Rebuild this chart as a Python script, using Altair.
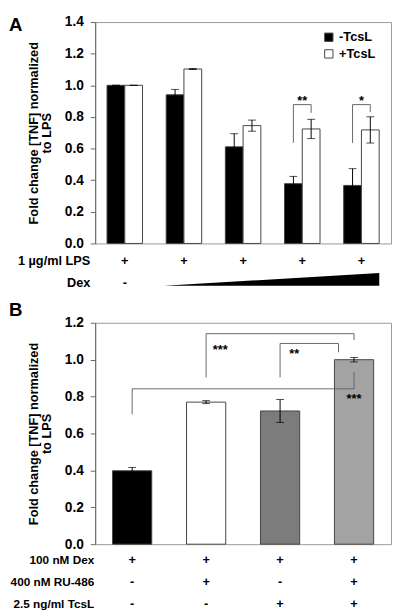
import altair as alt
import pandas as pd

FONT = "Liberation Sans"
W, H = 302, 226

# ---------------- Panel A data ----------------
a_groups = ["LPS", "Dex 1", "Dex 2", "Dex 3", "Dex 4"]
a_series = ["-TcsL", "+TcsL"]
a_minus = [1.00, 0.940, 0.611, 0.378, 0.367]
a_minus_err = [0.0, 0.034, 0.083, 0.046, 0.106]
a_plus = [1.00, 1.103, 0.745, 0.724, 0.718]
a_plus_err = [0.0, 0.003, 0.035, 0.061, 0.083]
a_lps_signs = ["+", "+", "+", "+", "+"]
a_dex_signs = ["-", "", "", "", ""]
a_row_titles = ["1 µg/ml LPS", "Dex"]
a_ticks = [0.0, 0.2, 0.4, 0.6, 0.8, 1.0, 1.2, 1.4]
# significance brackets (x in group units, y in fold change)
a_br_id = ["g4"] * 4 + ["g5"] * 4
a_br_x = [3.35, 3.35, 3.65, 3.65, 4.35, 4.35, 4.65, 4.65]
a_br_y = [0.636, 0.878, 0.878, 0.826, 0.636, 0.878, 0.878, 0.830]
a_star_text = ["**", "*"]
a_star_x = [3.5, 4.5]
a_star_y = [0.875, 0.875]

# ---------------- Panel B data ----------------
b_conds = ["Dex", "Dex+RU", "Dex+TcsL", "Dex+RU+TcsL"]
b_vals = [0.398, 0.770, 0.722, 1.000]
b_errs = [0.018, 0.008, 0.062, 0.012]
b_colors = ["#000000", "#ffffff", "#7c7c7c", "#a3a3a3"]
b_dex_signs = ["+", "+", "+", "+"]
b_ru_signs = ["-", "+", "-", "+"]
b_tcsl_signs = ["-", "-", "+", "+"]
b_row_titles = ["100 nM Dex", "400 nM RU-486", "2.5 ng/ml TcsL"]
b_ticks = [0.0, 0.2, 0.4, 0.6, 0.8, 1.0, 1.2]
b_br_id = ["b1"] * 4 + ["b2"] * 4 + ["b3"] * 4
b_br_x = [1.5, 1.5, 3.5, 3.5, 2.5, 2.5, 3.29, 3.29, 0.5, 0.5, 3.5, 3.5]
b_br_y = [0.904, 1.141, 1.141, 1.106, 0.904, 1.088, 1.088, 1.040, 0.704, 0.842, 0.842, 0.934]
b_star_text = ["***", "**", "***"]
b_star_x = [1.69, 2.69, 3.5]
b_star_y = [1.030, 1.009, 0.765]

Y_TITLE = ["Fold change [TNF] normalized", "to LPS"]


def yaxis(ticks):
    return alt.Axis(values=ticks, format=".1f", labelFont=FONT, labelFontSize=14,
                    labelFontWeight="bold", labelColor="black", tickSize=5,
                    tickColor="#666", domainColor="#666", grid=False, labelPadding=7,
                    labelOverlap=False,
                    title=Y_TITLE, titleFont=FONT, titleFontSize=13, titleFontWeight="bold",
                    titleColor="black", titleLineHeight=13, titlePadding=11)


def label(text, x, y, size=13, align="right", baseline="middle"):
    return alt.Chart(pd.DataFrame({"t": [text]})).mark_text(
        align=align, baseline=baseline, font=FONT, fontSize=size, fontWeight="bold",
        color="black").encode(x=alt.value(x), y=alt.value(y), text="t:N")


def sign_row(field, cats, signs, xenc, y):
    df = pd.DataFrame({field: cats, "s": signs})
    return alt.Chart(df).mark_text(baseline="middle", font=FONT, fontSize=13,
                                   fontWeight="bold", color="black").encode(
        x=xenc, y=alt.value(y), text="s:N")


# ---------------- Panel A ----------------
dfA = pd.DataFrame({
    "group": a_groups * 2,
    "series": [a_series[0]] * len(a_groups) + [a_series[1]] * len(a_groups),
    "value": a_minus + a_plus,
    "err": a_minus_err + a_plus_err,
})
xA = alt.X("group:N", scale=alt.Scale(domain=a_groups, paddingInner=0.4, paddingOuter=0.2), axis=None)
xoffA = alt.XOffset("series:N", scale=alt.Scale(domain=a_series, paddingInner=0, paddingOuter=0))
yscA = alt.Scale(domain=[0, 1.4])
yaxA = yaxis(a_ticks)

barsA = alt.Chart(dfA).mark_bar(stroke="#444", strokeWidth=1).encode(
    x=xA, xOffset=xoffA,
    y=alt.Y("value:Q", scale=yscA, axis=yaxA),
    fill=alt.Fill("series:N", scale=alt.Scale(domain=a_series, range=["black", "white"]),
                  legend=alt.Legend(title=None, orient="none", legendX=232, legendY=9,
                                    symbolType="square", symbolSize=72,
                                    symbolStrokeColor="#444", symbolStrokeWidth=1,
                                    labelFont=FONT, labelFontSize=13, labelFontWeight="bold",
                                    labelColor="black", labelOffset=4, rowPadding=3,
                                    padding=0)),
)
errA = alt.Chart(dfA).transform_calculate(
    lo="datum.value - datum.err", hi="datum.value + datum.err")
ruleA = errA.mark_rule(color="black", strokeWidth=1).encode(
    x=xA, xOffset=xoffA, y=alt.Y("lo:Q", scale=yscA, axis=yaxA), y2="hi:Q")
capHiA = errA.mark_tick(color="black", thickness=1, size=8).encode(
    x=xA, xOffset=xoffA, y=alt.Y("hi:Q", scale=yscA, axis=yaxA))
capLoA = errA.mark_tick(color="black", thickness=1, size=8).encode(
    x=xA, xOffset=xoffA, y=alt.Y("lo:Q", scale=yscA, axis=yaxA))

wedge = alt.Chart(pd.DataFrame({"w": [1]})).mark_point(
    shape="M -1 0.06 L 1 0.06 L 1 -0.06 Z", size=48400, filled=True,
    fill="black", opacity=1, strokeWidth=0).encode(x=alt.value(180), y=alt.value(262.7))

innerA = alt.layer(
    barsA, ruleA, capHiA, capLoA,
    sign_row("group", a_groups, a_lps_signs, xA, 244),
    sign_row("group", a_groups, a_dex_signs, xA, 266),
    label(a_row_titles[0], -5, 244),
    label(a_row_titles[1], -5, 266),
    wedge,
    label("A", -88, 9, size=19, align="left", baseline="alphabetic"),
)
dfbrA = pd.DataFrame({"id": a_br_id, "k": list(range(4)) * 2, "x": a_br_x, "y": a_br_y})
xqA = alt.Scale(domain=[0, len(a_groups)])
bracketsA = alt.Chart(dfbrA).mark_line(color="#666", strokeWidth=1).encode(
    x=alt.X("x:Q", scale=xqA, axis=None), y=alt.Y("y:Q", scale=yscA, axis=yaxA),
    detail="id:N", order="k:Q")
starsA = alt.Chart(pd.DataFrame({"t": a_star_text, "x": a_star_x, "y": a_star_y})).mark_text(
    font=FONT, fontSize=13, fontWeight="bold", baseline="alphabetic", color="black").encode(
    x=alt.X("x:Q", scale=xqA, axis=None), y=alt.Y("y:Q", scale=yscA, axis=yaxA), text="t:N")

panelA = alt.layer(innerA, alt.layer(bracketsA, starsA)).resolve_scale(
    x="independent").properties(width=W, height=H)

# ---------------- Panel B ----------------
dfB = pd.DataFrame({"cond": b_conds, "value": b_vals, "err": b_errs})
xB = alt.X("cond:N", scale=alt.Scale(domain=b_conds, paddingInner=0.47, paddingOuter=0.235), axis=None)
yscB = alt.Scale(domain=[0, 1.2])
yaxB = yaxis(b_ticks)

barsB = alt.Chart(dfB).mark_bar(stroke="#444", strokeWidth=1).encode(
    x=xB, y=alt.Y("value:Q", scale=yscB, axis=yaxB),
    fill=alt.Fill("cond:N", scale=alt.Scale(domain=b_conds, range=b_colors), legend=None))
errB = alt.Chart(dfB).transform_calculate(
    lo="datum.value - datum.err", hi="datum.value + datum.err")
ruleB = errB.mark_rule(color="black", strokeWidth=1).encode(
    x=xB, y=alt.Y("lo:Q", scale=yscB, axis=yaxB), y2="hi:Q")
capHiB = errB.mark_tick(color="black", thickness=1, size=8).encode(
    x=xB, y=alt.Y("hi:Q", scale=yscB, axis=yaxB))
capLoB = errB.mark_tick(color="black", thickness=1, size=8).encode(
    x=xB, y=alt.Y("lo:Q", scale=yscB, axis=yaxB))

innerB = alt.layer(
    barsB, ruleB, capHiB, capLoB,
    sign_row("cond", b_conds, b_dex_signs, xB, 242.4),
    sign_row("cond", b_conds, b_ru_signs, xB, 264.4),
    sign_row("cond", b_conds, b_tcsl_signs, xB, 286.7),
    label(b_row_titles[0], -1, 242.4, size=12),
    label(b_row_titles[1], -1, 264.4, size=12),
    label(b_row_titles[2], -1, 286.7, size=12),
    label("B", -88, -6.6, size=19, align="left", baseline="alphabetic"),
)
dfbrB = pd.DataFrame({"id": b_br_id, "k": list(range(4)) * 3, "x": b_br_x, "y": b_br_y})
xqB = alt.Scale(domain=[0, len(b_conds)])
bracketsB = alt.Chart(dfbrB).mark_line(color="#666", strokeWidth=1).encode(
    x=alt.X("x:Q", scale=xqB, axis=None), y=alt.Y("y:Q", scale=yscB, axis=yaxB),
    detail="id:N", order="k:Q")
starsB = alt.Chart(pd.DataFrame({"t": b_star_text, "x": b_star_x, "y": b_star_y})).mark_text(
    font=FONT, fontSize=13, fontWeight="bold", baseline="alphabetic", color="black").encode(
    x=alt.X("x:Q", scale=xqB, axis=None), y=alt.Y("y:Q", scale=yscB, axis=yaxB), text="t:N")

panelB = alt.layer(innerB, alt.layer(bracketsB, starsB)).resolve_scale(
    x="independent").properties(width=W, height=H)

chart = alt.vconcat(panelA, panelB, spacing=10).resolve_scale(
    fill="independent", y="independent", x="independent"
).properties(
    padding={"left": 0, "top": 0, "right": 0, "bottom": 0}
).configure(font=FONT).configure_view(stroke="#999")

chart.save("out.html", embed_options={"renderer": "svg", "actions": False})
